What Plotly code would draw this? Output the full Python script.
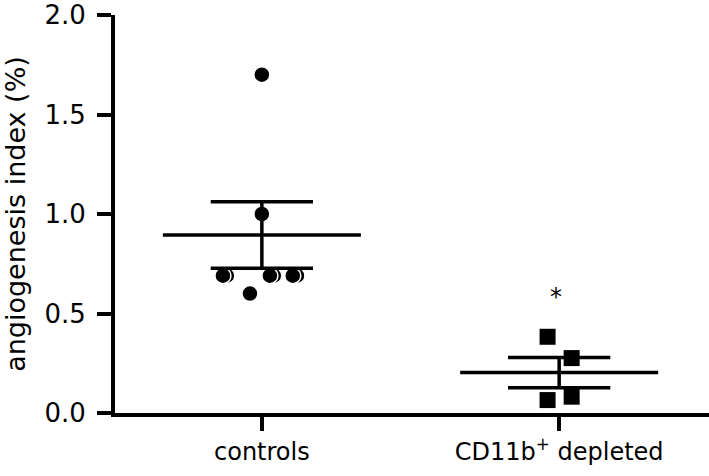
import plotly.graph_objects as go

# ---- data ----
categories = ["controls", "CD11b<sup>+</sup> depleted"]
cat_pos = [0, 1]

# controls: individual points (x jitter in category units, value)
controls_jitter = [0.0, 0.0, -0.118, 0.040, 0.118, -0.131, 0.027, 0.104, -0.040]
controls_values = [1.70, 1.00, 0.69, 0.69, 0.69, 0.69, 0.69, 0.69, 0.60]
controls_mean = 0.895
controls_sem = 0.167

# CD11b+ depleted: individual points
depleted_jitter = [-0.039, 0.042, -0.039, 0.042]
depleted_values = [0.383, 0.276, 0.065, 0.082]
depleted_mean = 0.203
depleted_sem = 0.076

asterisk_value = 0.60
asterisk_jitter = -0.011

y_ticks = [0.0, 0.5, 1.0, 1.5, 2.0]

FONT = "DejaVu Sans"
MEAN_HALF = 0.333
CAP_HALF = 0.172
LW = 3.5

fig = go.Figure()

# points
fig.add_trace(go.Scatter(
    x=[cat_pos[0] + j for j in controls_jitter], y=controls_values,
    mode="markers",
    marker=dict(symbol="circle", size=16, color="black",
                line=dict(color="white", width=1.5)),
    showlegend=False, hoverinfo="skip"))
fig.add_trace(go.Scatter(
    x=[cat_pos[1] + j for j in depleted_jitter], y=depleted_values,
    mode="markers",
    marker=dict(symbol="square", size=16, color="black",
                line=dict(width=0)),
    showlegend=False, hoverinfo="skip"))

# mean and SEM lines
for c, m, s in [(cat_pos[0], controls_mean, controls_sem),
                (cat_pos[1], depleted_mean, depleted_sem)]:
    segs = [
        ([c - MEAN_HALF, c + MEAN_HALF], [m, m]),
        ([c - CAP_HALF, c + CAP_HALF], [m + s, m + s]),
        ([c - CAP_HALF, c + CAP_HALF], [m - s, m - s]),
        ([c, c], [m - s, m + s]),
    ]
    for xs, ys in segs:
        fig.add_trace(go.Scatter(x=xs, y=ys, mode="lines",
                                 line=dict(color="black", width=LW),
                                 showlegend=False, hoverinfo="skip"))

fig.add_annotation(x=cat_pos[1] + asterisk_jitter, y=asterisk_value,
                   text="*", showarrow=False, yshift=-3,
                   font=dict(family=FONT, size=24, color="black"))

fig.update_layout(
    width=709, height=476,
    margin=dict(l=115, r=0, t=15, b=63),
    paper_bgcolor="white", plot_bgcolor="white",
    font=dict(family=FONT, size=24, color="black"),
    xaxis=dict(range=[-0.494, 1.504], tickvals=cat_pos, ticktext=categories,
               showline=True, linewidth=4, linecolor="black",
               ticks="outside", ticklen=14, tickwidth=4, tickcolor="black",
               showgrid=False, zeroline=False,
               tickfont=dict(family=FONT, size=24, color="black")),
    yaxis=dict(range=[0, 2.0], tickvals=y_ticks,
               ticktext=[f"{v:.1f}" for v in y_ticks],
               showline=True, linewidth=4, linecolor="black",
               ticks="outside", ticklen=14, tickwidth=4, tickcolor="black",
               ticklabelstandoff=6,
               showgrid=False, zeroline=False,
               tickfont=dict(family=FONT, size=26, color="black"),
               title=dict(text="angiogenesis index (%)", standoff=14,
                          font=dict(family=FONT, size=27, color="black"))),
)

fig.write_html("out.html",
               config={"displayModeBar": False},
               post_script="document.body.style.margin='0';document.body.style.padding='0';")
